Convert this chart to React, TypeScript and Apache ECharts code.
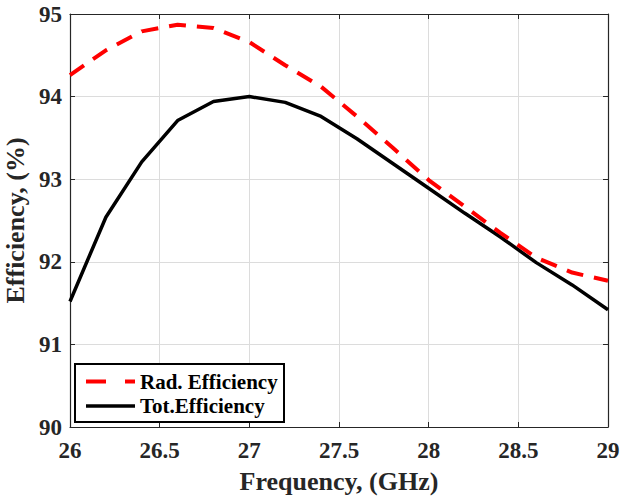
import React, { useEffect, useRef } from "react";
import * as echarts from "echarts";

const freq = [26, 26.2, 26.4, 26.6, 26.8, 27, 27.2, 27.4, 27.6, 27.8, 28, 28.2, 28.4, 28.6, 28.8, 29];
const radEff = [94.26, 94.56, 94.79, 94.87, 94.83, 94.66, 94.38, 94.12, 93.76, 93.38, 92.99, 92.67, 92.35, 92.05, 91.87, 91.77];
const totEff = [91.52, 92.54, 93.21, 93.71, 93.94, 94.0, 93.93, 93.76, 93.49, 93.19, 92.89, 92.59, 92.3, 91.99, 91.72, 91.42];
const seriesNames = ["Rad. Efficiency", "Tot.Efficiency"];

const FONT = "'Liberation Serif', 'Times New Roman', serif";

export default function App() {
  const ref = useRef<HTMLDivElement>(null);
  useEffect(() => {
    if (!ref.current) return;
    const chart = echarts.init(ref.current, undefined, { renderer: "svg" });
    const axisLine = { show: true, lineStyle: { color: "#262626", width: 1.2 } };
    const splitLine = { show: true, lineStyle: { color: "#dcdcdc", width: 1 } };
    const tick = { show: true, inside: true, length: 5, lineStyle: { color: "#262626" } };
    chart.setOption({
      animation: false,
      backgroundColor: "#ffffff",
      grid: { left: 70, right: 13, top: 14, bottom: 73, containLabel: false, outerBoundsMode: "none" },
      xAxis: [
        {
          type: "value",
          min: 26,
          max: 29,
          interval: 0.5,
          name: "Frequency, (GHz)",
          nameLocation: "middle",
          nameGap: 41,
          nameTextStyle: { fontFamily: FONT, fontWeight: "bold", fontSize: 26, color: "#262626" },
          axisLine,
          axisTick: tick,
          axisLabel: { fontFamily: FONT, fontWeight: "bold", fontSize: 23, color: "#262626", margin: 12 },
          splitLine,
        },
        {
          type: "value",
          position: "top",
          min: 26,
          max: 29,
          interval: 0.5,
          axisLine,
          axisTick: tick,
          axisLabel: { show: false },
          splitLine: { show: false },
        },
      ],
      yAxis: [
        {
          type: "value",
          min: 90,
          max: 95,
          interval: 1,
          name: "Efficiency, (%)",
          nameLocation: "middle",
          nameGap: 33,
          nameTextStyle: { fontFamily: FONT, fontWeight: "bold", fontSize: 26, color: "#262626" },
          axisLine,
          axisTick: tick,
          axisLabel: { fontFamily: FONT, fontWeight: "bold", fontSize: 23, color: "#262626", margin: 8 },
          splitLine,
        },
        {
          type: "value",
          position: "right",
          min: 90,
          max: 95,
          interval: 1,
          axisLine,
          axisTick: tick,
          axisLabel: { show: false },
          splitLine: { show: false },
        },
      ],
      graphic: [
        {
          type: "rect",
          shape: { x: 75, y: 364, width: 209, height: 58 },
          style: { fill: "#ffffff", stroke: "#000000", lineWidth: 2 },
          z: 10,
        },
        {
          type: "line",
          shape: { x1: 86, y1: 381.5, x2: 135, y2: 381.5 },
          style: { stroke: "#ff0000", lineWidth: 4, lineDash: [20, 19] },
          z: 11,
        },
        {
          type: "line",
          shape: { x1: 86, y1: 406, x2: 135, y2: 406 },
          style: { stroke: "#000000", lineWidth: 3.5 },
          z: 11,
        },
        {
          type: "text",
          x: 140,
          y: 382,
          style: {
            text: seriesNames[0],
            fontFamily: FONT,
            fontWeight: "bold",
            fontSize: 21,
            fill: "#000000",
            verticalAlign: "middle",
          },
          z: 11,
        },
        {
          type: "text",
          x: 140,
          y: 406,
          style: {
            text: seriesNames[1],
            fontFamily: FONT,
            fontWeight: "bold",
            fontSize: 21,
            fill: "#000000",
            verticalAlign: "middle",
          },
          z: 11,
        },
      ],
      series: [
        {
          name: seriesNames[0],
          type: "line",
          symbol: "none",
          data: freq.map((f, i) => [f, radEff[i]]),
          lineStyle: { color: "#ff0000", width: 4, type: [17, 11] },
          itemStyle: { color: "#ff0000" },
          z: 3,
        },
        {
          name: seriesNames[1],
          type: "line",
          symbol: "none",
          data: freq.map((f, i) => [f, totEff[i]]),
          lineStyle: { color: "#000000", width: 3.5 },
          itemStyle: { color: "#000000" },
          z: 2,
        },
      ],
    });
    return () => chart.dispose();
  }, []);
  return <div ref={ref} style={{ width: 621, height: 500, position: "absolute", left: 0, top: 0 }} />;
}
